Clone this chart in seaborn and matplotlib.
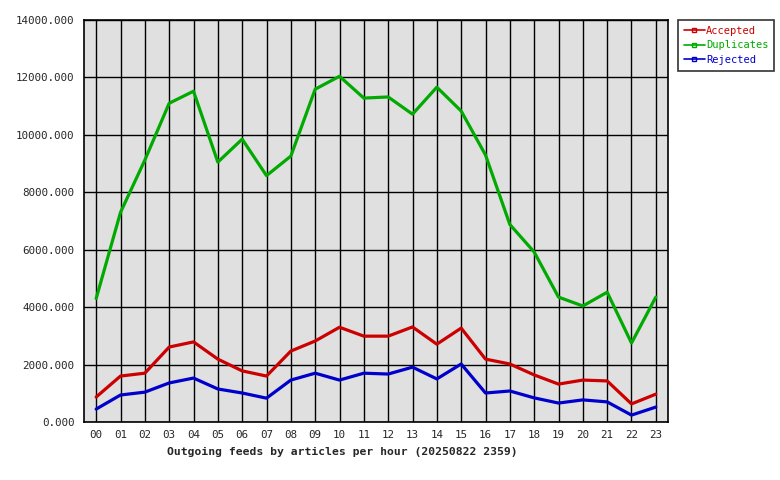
import numpy as np
import pandas as pd
import seaborn as sns
import matplotlib.pyplot as plt
from matplotlib.lines import Line2D

# hourly values
hours = [f"{h:02d}" for h in range(24)]
accepted = [870, 1600, 1700, 2610, 2790, 2190, 1780, 1600, 2470, 2820, 3300, 2990,
            2990, 3310, 2710, 3270, 2190, 2020, 1640, 1320, 1460, 1430, 630, 970]
duplicates = [4300, 7300, 9120, 11100, 11520, 9050, 9850, 8580, 9260, 11590, 12040, 11280,
              11320, 10720, 11660, 10830, 9300, 6880, 5920, 4350, 4040, 4520, 2750, 4350]
rejected = [450, 940, 1040, 1360, 1530, 1150, 1010, 830, 1460, 1700, 1460, 1700,
            1670, 1910, 1500, 2020, 1010, 1080, 840, 660, 770, 700, 240, 520]

series = ["Accepted", "Duplicates", "Rejected"]
colors = ["#cc0000", "#00aa00", "#0000cc"]

df = pd.DataFrame({
    "hour": list(range(24)) * 3,
    "value": accepted + duplicates + rejected,
    "series": np.repeat(series, 24),
})

sns.set_style("white")
plt.rcParams["font.family"] = ["DejaVu Sans Mono"]

fig = plt.figure(figsize=(7.8, 4.8), dpi=100)
ax = fig.add_axes([84 / 780, 58 / 480, 584 / 780, 402 / 480])
ax.set_facecolor("#e0e0e0")

sns.lineplot(data=df, x="hour", y="value", hue="series", palette=colors,
             linewidth=2.3, legend=False, ax=ax)

ax.set_xlim(-0.5, 23.5)
ax.set_ylim(0, 14000)
ax.set_xticks(range(24))
ax.set_xticklabels(hours, fontsize=7.8)
ax.set_yticks(np.arange(0, 14001, 2000))
ax.set_yticklabels([f"{v:.3f}" for v in np.arange(0, 14001, 2000)], fontsize=7.8)
ax.grid(True, color="black", linewidth=1)
ax.set_axisbelow(True)
for s in ax.spines.values():
    s.set_color("black")
    s.set_linewidth(1.2)
ax.tick_params(axis="y", length=4, width=1, color="black", pad=3)
ax.tick_params(axis="x", length=0, pad=6)

ax.set_ylabel("")
ax.set_xlabel("Outgoing feeds by articles per hour (20250822 2359)",
              fontsize=8.2, fontweight="bold")
ax.xaxis.set_label_coords(0.442, -0.062)

handles = [Line2D([], [], color=c, linewidth=1.2, marker="s", markersize=3,
                  markerfacecolor="none") for c in colors]
leg = fig.legend(handles, series, loc="upper left", bbox_to_anchor=(678 / 780, 1 - 20 / 480),
                 frameon=True, fancybox=False, edgecolor="black", fontsize=7.5,
                 labelcolor=colors, handlelength=2.0, handletextpad=0.15,
                 borderpad=0.55, labelspacing=0.45, borderaxespad=0, numpoints=1)
leg.get_frame().set_linewidth(1.2)

fig.savefig("out.png", dpi=100, facecolor="white")
